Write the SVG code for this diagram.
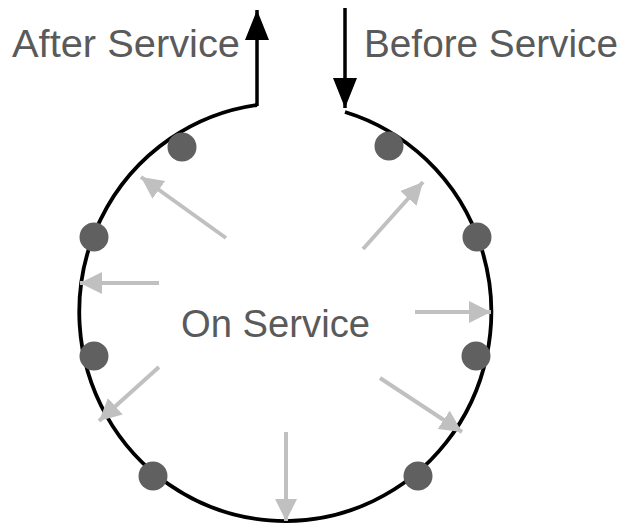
<svg xmlns="http://www.w3.org/2000/svg" width="623" height="524" viewBox="0 0 623 524">
<style>
.lbl{font-family:"Liberation Sans",Arial,sans-serif;font-size:39px;fill:#5a5a5a}
.dot{fill:#606060}
.ring{fill:none;stroke:#000;stroke-width:3.8}
.blk{fill:none;stroke:#000;stroke-width:3.5}
.gry{fill:none;stroke:#c0c0c0;stroke-width:4;marker-end:url(#ga)}
</style>
<defs>
<marker id="ga" markerUnits="userSpaceOnUse" markerWidth="24" markerHeight="24" refX="22" refY="11" orient="auto">
<path d="M0,0 L22,11 L0,22 Z" fill="#c0c0c0"/>
</marker>
<marker id="ba" markerUnits="userSpaceOnUse" markerWidth="32" markerHeight="26" refX="30" refY="12" orient="auto">
<path d="M0,0 L30,12 L0,24 Z" fill="#000"/>
</marker>
</defs>
<g id="ring">
<path class="ring" d="M345,112 A206,209 0 1 1 257,105"/>
</g>
<g id="connectors">
<path class="blk" d="M257,106 L257,10" marker-end="url(#ba)"/>
<path class="blk" d="M345,8 L345,108" marker-end="url(#ba)"/>
<line class="gry" x1="226" y1="238" x2="141" y2="177"/>
<line class="gry" x1="159" y1="283" x2="80" y2="283"/>
<line class="gry" x1="159" y1="367" x2="99" y2="421"/>
<line class="gry" x1="286" y1="432" x2="286" y2="521"/>
<line class="gry" x1="380" y1="378" x2="462" y2="432"/>
<line class="gry" x1="415" y1="312" x2="491" y2="312"/>
<line class="gry" x1="363" y1="249" x2="423" y2="182"/>
</g>
<g id="dots">
<circle class="dot" cx="182" cy="147" r="14.5"/>
<circle class="dot" cx="389" cy="146" r="14.5"/>
<circle class="dot" cx="94" cy="237" r="14.5"/>
<circle class="dot" cx="477" cy="237" r="14.5"/>
<circle class="dot" cx="94" cy="356" r="14.5"/>
<circle class="dot" cx="476" cy="356" r="14.5"/>
<circle class="dot" cx="153" cy="476" r="14.5"/>
<circle class="dot" cx="418" cy="476" r="14.5"/>
</g>
<g id="after-service"><text class="lbl" x="12" y="57" textLength="228" lengthAdjust="spacingAndGlyphs">After Service</text></g>
<g id="before-service"><text class="lbl" x="364" y="57" textLength="254" lengthAdjust="spacingAndGlyphs">Before Service</text></g>
<g id="on-service"><text class="lbl" x="181" y="337" textLength="189" lengthAdjust="spacingAndGlyphs">On Service</text></g>
</svg>
